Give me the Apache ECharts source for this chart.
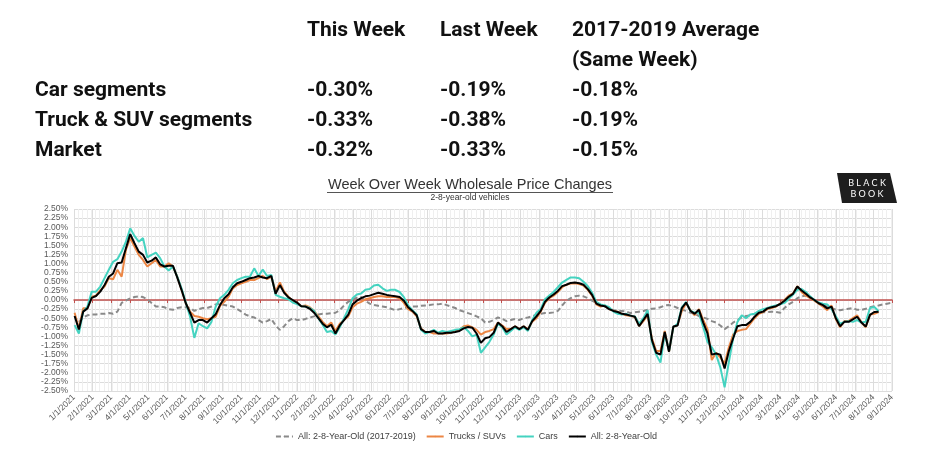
<!DOCTYPE html>
<html><head><meta charset="utf-8">
<script src="https://cdn.jsdelivr.net/npm/echarts@6/dist/echarts.min.js"></script>
<style>html,body{margin:0;padding:0;background:#fff}#c{width:932px;height:475px}</style>
</head><body><div id="c"></div>
<script>
// ---------- DATA ----------
const axisStart = '2021-01-01';
const axisEnd = '2024-09-01';
const firstWeek = '2021-01-02';

const monthLabels = ['1/1/2021','2/1/2021','3/1/2021','4/1/2021','5/1/2021','6/1/2021','7/1/2021','8/1/2021','9/1/2021','10/1/2021','11/1/2021','12/1/2021',
 '1/1/2022','2/1/2022','3/1/2022','4/1/2022','5/1/2022','6/1/2022','7/1/2022','8/1/2022','9/1/2022','10/1/2022','11/1/2022','12/1/2022',
 '1/1/2023','2/1/2023','3/1/2023','4/1/2023','5/1/2023','6/1/2023','7/1/2023','8/1/2023','9/1/2023','10/1/2023','11/1/2023','12/1/2023',
 '1/1/2024','2/1/2024','3/1/2024','4/1/2024','5/1/2024','6/1/2024','7/1/2024','8/1/2024','9/1/2024'];

const yTicks = [-2.5, 2.5, 0.25]; // min, max, step

const allMarket = [-0.44,-0.81,-0.32,-0.23,0.06,0.11,0.23,0.41,0.64,0.73,
 1.01,1.03,1.42,1.81,1.56,1.33,1.24,1.03,1.08,1.17,
 0.98,0.92,0.94,0.94,0.62,0.28,-0.09,-0.35,-0.62,-0.55,
 -0.55,-0.62,-0.50,-0.39,-0.14,0.05,0.16,0.35,0.46,0.50,
 0.55,0.60,0.62,0.66,0.62,0.60,0.66,0.17,0.41,0.20,
 0.07,0.00,-0.07,-0.17,-0.18,-0.24,-0.35,-0.50,-0.65,-0.75,
 -0.68,-0.92,-0.70,-0.55,-0.40,-0.12,-0.02,0.05,0.10,0.12,
 0.16,0.20,0.17,0.14,0.12,0.10,0.08,-0.02,-0.20,-0.30,
 -0.42,-0.80,-0.88,-0.88,-0.85,-0.92,-0.92,-0.90,-0.90,-0.88,
 -0.85,-0.78,-0.74,-0.76,-0.92,-1.18,-1.05,-1.02,-0.90,-0.62,
 -0.72,-0.88,-0.80,-0.72,-0.80,-0.72,-0.82,-0.58,-0.45,-0.30,
 -0.05,0.07,0.15,0.25,0.38,0.42,0.47,0.48,0.46,0.42,
 0.30,0.14,-0.10,-0.15,-0.17,-0.25,-0.30,-0.33,-0.38,-0.40,
 -0.43,-0.46,-0.72,-0.55,-0.38,-1.10,-1.45,-1.50,-0.88,-1.42,
 -0.73,-0.70,-0.22,-0.07,-0.30,-0.38,-0.27,-0.62,-0.92,-1.50,
 -1.47,-1.50,-1.88,-1.40,-1.05,-0.72,-0.69,-0.69,-0.60,-0.46,
 -0.35,-0.32,-0.23,-0.20,-0.17,-0.11,-0.02,0.09,0.17,0.37,
 0.26,0.17,0.07,0.00,-0.09,-0.14,-0.23,-0.18,-0.50,-0.72,
 -0.60,-0.60,-0.53,-0.46,-0.62,-0.73,-0.41,-0.33,-0.32];

const trucksSUVs = [-0.35,-0.78,-0.23,-0.23,0.09,0.12,0.27,0.37,0.60,0.57,
 0.83,0.64,1.38,1.70,1.47,1.24,1.10,0.92,1.01,1.10,
 0.92,0.92,1.01,0.92,0.64,0.28,-0.09,-0.32,-0.44,-0.46,
 -0.50,-0.53,-0.50,-0.46,-0.16,-0.05,0.09,0.32,0.41,0.46,
 0.50,0.55,0.55,0.60,0.66,0.57,0.64,0.23,0.48,0.23,
 0.09,-0.02,-0.07,-0.17,-0.15,-0.20,-0.30,-0.45,-0.60,-0.72,
 -0.62,-0.85,-0.65,-0.55,-0.45,-0.20,-0.10,-0.05,0.02,0.05,
 0.08,0.10,0.10,0.08,0.08,0.08,0.05,-0.08,-0.25,-0.32,
 -0.45,-0.78,-0.88,-0.88,-0.92,-0.92,-0.92,-0.92,-0.90,-0.85,
 -0.82,-0.72,-0.70,-0.75,-0.82,-0.95,-0.88,-0.85,-0.80,-0.62,
 -0.70,-0.80,-0.80,-0.72,-0.80,-0.72,-0.80,-0.60,-0.50,-0.32,
 -0.08,0.05,0.12,0.22,0.35,0.42,0.45,0.46,0.44,0.40,
 0.28,0.12,-0.12,-0.18,-0.15,-0.25,-0.30,-0.32,-0.38,-0.42,
 -0.44,-0.46,-0.72,-0.58,-0.42,-1.05,-1.40,-1.40,-0.85,-1.42,
 -0.75,-0.68,-0.30,-0.08,-0.28,-0.42,-0.25,-0.55,-0.80,-1.65,
 -1.45,-1.58,-1.75,-1.30,-0.95,-0.85,-0.82,-0.80,-0.65,-0.50,
 -0.38,-0.33,-0.25,-0.22,-0.18,-0.10,0.00,0.12,0.18,0.38,
 0.22,0.12,0.05,-0.02,-0.10,-0.18,-0.28,-0.15,-0.52,-0.75,
 -0.58,-0.58,-0.50,-0.42,-0.62,-0.75,-0.40,-0.38,-0.33];

const cars = [-0.69,-0.92,-0.32,-0.18,0.23,0.23,0.37,0.60,0.83,1.05,
 1.12,1.33,1.60,1.97,1.76,1.60,1.70,1.17,1.24,1.30,
 1.15,0.92,0.81,0.92,0.64,0.32,-0.07,-0.46,-1.04,-0.64,
 -0.72,-0.78,-0.60,-0.18,0.05,0.14,0.28,0.46,0.55,0.60,
 0.64,0.64,0.87,0.66,0.84,0.66,0.69,0.14,0.09,0.05,
 0.02,-0.07,-0.11,-0.17,-0.18,-0.22,-0.30,-0.50,-0.68,-0.88,
 -0.85,-0.95,-0.75,-0.50,-0.25,0.05,0.15,0.18,0.28,0.30,
 0.40,0.42,0.32,0.25,0.28,0.28,0.22,0.08,-0.15,-0.28,
 -0.40,-0.82,-0.92,-0.88,-0.82,-0.90,-0.85,-0.88,-0.85,-0.82,
 -0.80,-0.75,-0.85,-1.00,-0.95,-1.45,-1.30,-1.15,-0.95,-0.65,
 -0.75,-0.95,-0.85,-0.75,-0.82,-0.75,-0.85,-0.55,-0.35,-0.25,
 0.02,0.12,0.22,0.35,0.48,0.55,0.62,0.62,0.60,0.50,
 0.38,0.20,-0.05,-0.12,-0.15,-0.20,-0.32,-0.38,-0.40,-0.38,
 -0.43,-0.45,-0.65,-0.50,-0.28,-1.15,-1.50,-1.72,-0.92,-1.40,
 -0.75,-0.65,-0.20,-0.05,-0.30,-0.35,-0.35,-0.75,-1.15,-1.30,
 -1.50,-1.85,-2.40,-1.70,-1.05,-0.60,-0.42,-0.50,-0.40,-0.38,
 -0.30,-0.25,-0.22,-0.18,-0.15,-0.12,-0.08,0.03,0.15,0.28,
 0.30,0.22,0.10,0.00,-0.07,-0.10,-0.12,-0.25,-0.45,-0.65,
 -0.60,-0.58,-0.60,-0.55,-0.62,-0.60,-0.22,-0.19,-0.30];

const avg2017to2019 = [null,-0.60,-0.48,-0.42,-0.40,-0.40,-0.38,-0.38,-0.36,-0.38,
 -0.32,-0.08,-0.02,0.05,0.08,0.10,0.08,0.02,-0.08,-0.18,
 -0.18,-0.20,-0.25,-0.27,-0.22,-0.20,-0.20,-0.22,-0.30,-0.25,
 -0.22,-0.22,-0.18,-0.12,-0.10,-0.14,-0.16,-0.18,-0.25,-0.32,
 -0.40,-0.45,-0.48,-0.55,-0.62,-0.58,-0.52,-0.70,-0.82,-0.72,
 -0.58,-0.50,-0.55,-0.55,-0.52,-0.48,-0.45,-0.40,-0.38,-0.38,
 -0.36,-0.35,-0.28,-0.15,-0.05,0.02,0.06,0.08,-0.02,-0.10,
 -0.14,-0.16,-0.18,-0.20,-0.24,-0.28,-0.25,-0.22,-0.20,-0.18,
 -0.18,-0.16,-0.15,-0.14,-0.12,-0.12,-0.10,-0.14,-0.18,-0.22,
 -0.28,-0.32,-0.36,-0.40,-0.45,-0.50,-0.62,-0.60,-0.55,-0.48,
 -0.52,-0.58,-0.55,-0.52,-0.55,-0.50,-0.48,-0.45,-0.40,-0.38,
 -0.36,-0.36,-0.34,-0.30,-0.15,-0.02,0.05,0.10,0.12,0.10,
 0.05,-0.02,-0.08,-0.14,-0.18,-0.24,-0.28,-0.30,-0.30,-0.32,
 -0.36,-0.34,-0.32,-0.30,-0.27,-0.24,-0.23,-0.20,-0.15,-0.14,
 -0.17,-0.22,-0.27,-0.30,-0.35,-0.38,-0.44,-0.48,-0.52,-0.58,
 -0.62,-0.70,-0.80,-0.72,-0.62,-0.55,-0.48,-0.44,-0.42,-0.38,
 -0.35,-0.34,-0.33,-0.32,-0.33,-0.35,-0.22,-0.12,-0.05,0.05,
 0.10,0.12,0.08,0.00,-0.08,-0.15,-0.18,-0.22,-0.27,-0.28,
 -0.26,-0.24,-0.22,-0.27,-0.27,-0.24,-0.20,-0.17,-0.15,-0.12,
 -0.10,-0.08];

const seriesNames = ['All: 2-8-Year-Old (2017-2019)','Trucks / SUVs','Cars','All: 2-8-Year-Old'];

const tableHeaders = ['This Week','Last Week','2017-2019 Average'];
const tableSubHeader = '(Same Week)';
const tableRows = ['Car segments','Truck & SUV segments','Market'];
const thisWeek = ['-0.30%','-0.33%','-0.32%'];
const lastWeek = ['-0.19%','-0.38%','-0.33%'];
const avgSameWeek = ['-0.18%','-0.19%','-0.15%'];

const chartTitle = 'Week Over Week Wholesale Price Changes';
const chartSubtitle = '2-8-year-old vehicles';

// ---------- BUILD ----------
const DAY = 86400000;
const t0 = Date.parse(axisStart);
const axisDays = (Date.parse(axisEnd) - t0) / DAY;
const w0 = (Date.parse(firstWeek) - t0) / DAY;
// x position (days since axis start) of weekly observation i
const weekX = i => w0 + 7 * i;
const toXY = arr => arr.map((v, i) => [weekX(i), v]);

const chart = echarts.init(document.getElementById('c'), null, {renderer: 'canvas'});

const tableFont = {fontFamily: 'Roboto', fontWeight: 'bold', fontSize: 21, fill: '#111', verticalAlign: 'middle'};
const colX = [307, 440, 572];
const rowY = [91, 121, 151];
const tableEls = [];
tableHeaders.forEach((h, i) => tableEls.push({type: 'text', x: colX[i], y: 31, style: Object.assign({text: h}, tableFont)}));
tableEls.push({type: 'text', x: colX[2], y: 61, style: Object.assign({text: tableSubHeader}, tableFont)});
tableRows.forEach((r, j) => {
  tableEls.push({type: 'text', x: 35, y: rowY[j], style: Object.assign({text: r}, tableFont)});
  [thisWeek, lastWeek, avgSameWeek].forEach((col, i) => {
    tableEls.push({type: 'text', x: colX[i], y: rowY[j], style: Object.assign({text: col[j]}, tableFont)});
  });
});

const labelFont = 'Liberation Sans';

const option = {
  backgroundColor: '#fff',
  animation: false,
  grid: {left: 74, right: 40, top: 209, bottom: 84, containLabel: false, outerBoundsMode: 'none'},
  legend: {
    data: seriesNames,
    bottom: 29,
    left: 'center',
    itemWidth: 17,
    itemHeight: 2,
    itemGap: 10,
    textStyle: {fontFamily: labelFont, fontSize: 9, color: '#404040'}
  },
  xAxis: [
    {type: 'value', min: 0, max: axisDays, interval: 7, position: 'bottom',
     axisLine: {show: false, onZero: false}, axisTick: {show: false}, axisLabel: {show: false},
     splitLine: {show: true, lineStyle: {color: '#efefef', width: 1}}},
    {type: 'category', data: monthLabels, boundaryGap: false, position: 'bottom',
     axisLine: {show: false, onZero: false}, axisTick: {show: false},
     axisLabel: {interval: 0, rotate: 45, margin: 5, fontFamily: labelFont, fontSize: 8.5, color: '#595959'},
     splitLine: {show: true, lineStyle: {color: '#dcdcdc', width: 1}}},
    {type: 'category', data: monthLabels, boundaryGap: false, position: 'bottom',
     axisLine: {show: true, onZero: true, lineStyle: {color: '#c0504d', width: 1.5}},
     axisTick: {show: true, interval: 0, length: 3, lineStyle: {color: '#c0504d', width: 1}},
     axisLabel: {show: false}, splitLine: {show: false}}
  ],
  yAxis: {
    type: 'value', min: yTicks[0], max: yTicks[1], interval: yTicks[2],
    axisLine: {show: false}, axisTick: {show: false},
    axisLabel: {formatter: v => v.toFixed(2) + '%', fontFamily: labelFont, fontSize: 8.5, color: '#595959', margin: 6},
    splitLine: {show: true, lineStyle: {color: '#dcdcdc', width: 1}}
  },
  series: [
    {name: seriesNames[0], type: 'line', xAxisIndex: 0, data: toXY(avg2017to2019), symbol: 'none', z: 2,
     lineStyle: {color: '#8a8a8a', width: 2, type: [5, 3]}, itemStyle: {color: '#8a8a8a'}},
    {name: seriesNames[1], type: 'line', xAxisIndex: 0, data: toXY(trucksSUVs), symbol: 'none', z: 3,
     lineStyle: {color: '#ec8644', width: 2}, itemStyle: {color: '#ec8644'}},
    {name: seriesNames[2], type: 'line', xAxisIndex: 0, data: toXY(cars), symbol: 'none', z: 4,
     lineStyle: {color: '#45d3c0', width: 2}, itemStyle: {color: '#45d3c0'}},
    {name: seriesNames[3], type: 'line', xAxisIndex: 0, data: toXY(allMarket), symbol: 'none', z: 5,
     lineStyle: {color: '#000000', width: 2}, itemStyle: {color: '#000000'}}
  ],
  graphic: [
    {type: 'group', children: tableEls},
    {type: 'text', x: 470, y: 185, style: {text: chartTitle, fontFamily: labelFont, fontSize: 14.5, fill: '#333', align: 'center', verticalAlign: 'middle'}},
    {type: 'line', shape: {x1: 327, y1: 192.5, x2: 613, y2: 192.5}, style: {stroke: '#555', lineWidth: 1}},
    {type: 'text', x: 470, y: 198, style: {text: chartSubtitle, fontFamily: labelFont, fontSize: 8.5, fill: '#333', align: 'center', verticalAlign: 'middle'}},
    {type: 'polygon', shape: {points: [[837, 173], [890, 173], [897, 203], [842, 203]]}, style: {fill: '#1e1e1e'}},
    {type: 'text', x: 867, y: 183, style: {text: 'B L A C K', fontFamily: 'Lato', fontSize: 9, fill: '#fff', align: 'center', verticalAlign: 'middle'}},
    {type: 'text', x: 867, y: 194, style: {text: 'B O O K', fontFamily: 'Lato', fontSize: 9, fill: '#fff', align: 'center', verticalAlign: 'middle'}}
  ]
};
chart.setOption(option);
</script>
</body></html>
